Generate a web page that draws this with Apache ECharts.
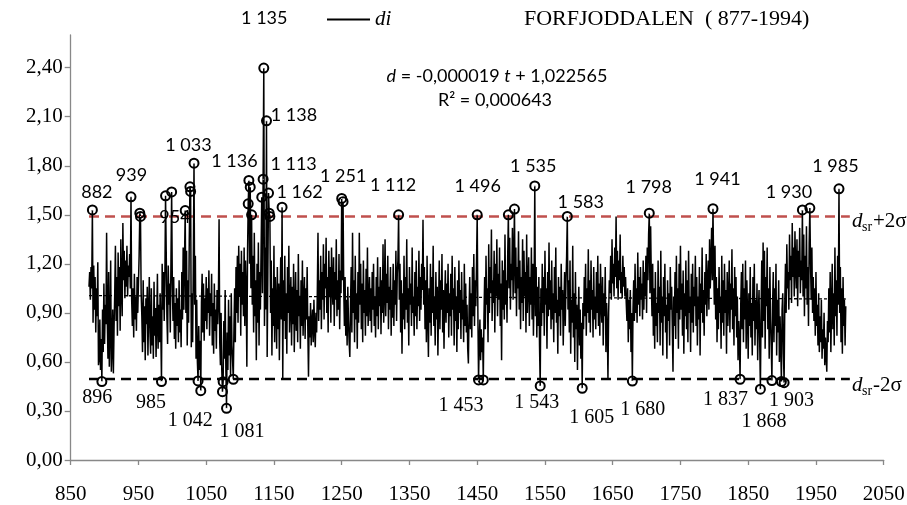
<!DOCTYPE html>
<html><head><meta charset="utf-8">
<script src="https://cdn.jsdelivr.net/npm/echarts@6/dist/echarts.min.js"></script>
<style>html,body{margin:0;padding:0;background:#fff}#c{width:907px;height:505px}</style>
</head><body><div id="c"></div>
<script>
// ---- yearly di values, grouped by start year ----
const y0877 = [
 1.06,1.15,0.98,1.18,1.05,1.53,
 0.84,1.19,0.92,1.12,0.78,1.05,0.88,1.21,
 0.58,0.62,0.86,0.55,0.74,0.48,
 0.92,0.66,1.08,0.71,0.95,0.83,1.39,
 0.86,0.62,1.15,0.57,0.78,1.22,0.54,0.69,0.92,0.53,0.81,1.02,
 1.31,0.85,1.12,0.76,1.27,0.94,1.18,0.79,1.35,1.04,0.88,1.45,1.1,
 1.28,0.99,1.22,1.06,1.31,1.0,1.19,1.12,1.26,1.05,1.61,
 0.98,0.82,1.05,0.75,1.14,0.86,1.0,0.79,1.12,0.9,1.08,1.25,1.51,1.49,
 1.02,0.88,0.66,1.1,0.72,0.94,0.61,0.99,0.83,1.06,0.64,0.9,
 1.12,0.78,0.65,1.05,0.7,0.88,0.62,1.09,0.76,0.93,0.63,0.85,1.14,0.68,0.95,0.72,1.02,0.8,0.48,
 1.2,0.92,1.15,0.85,1.1,1.616,
 1.27,0.88,0.71,1.19,0.95,1.08,0.78,1.22,1.64];
const y1000 = [
 1.08,0.85,1.12,0.74,0.96,0.68,1.05,0.82,0.99,0.72,1.1,0.78,0.92,0.69,1.15,0.86,1.3,0.92,1.22,1.526,
 0.9,1.28,0.7,1.1,0.84,1.34,1.671,1.643,0.69,1.02,0.72,1.2,1.816,
 0.95,1.25,0.62,0.98,0.6,0.484,0.82,0.55,0.73,0.424,
 0.96,1.14,0.78,1.08,0.73,0.99,0.85,1.12,0.8,1.05,0.9,1.16,0.76,
 1.02,0.88,1.14,0.7,0.96,0.65,1.08,0.79,0.92,0.68,1.04,0.83,0.98,1.473,
 0.72,0.58,0.9,0.55,0.418,0.479,0.85,0.62,1.04,0.56,0.316,
 0.78,0.55,0.98,0.64,0.88,0.51,1.02,0.7,0.6,0.494,
 0.82,1.05,0.72,1.18,0.9,1.25,0.84,1.31,1.0];
const y1100 = [
 1.2,0.76,1.28,0.95,1.15,0.88,1.3,0.82,1.22,1.05,0.57,1.26,
 1.567,1.71,1.2,1.669,1.05,1.50,
 0.95,1.25,0.78,1.39,0.88,1.1,0.61,1.2,0.84,1.33,0.7,1.15,0.92,1.28,
 1.608,1.02,1.718,2.398,0.82,1.3,0.92,2.075,0.63,1.15,1.633,1.51,1.49,
 0.9,1.22,0.64,1.05,0.82,1.31,0.72,1.12,0.95,0.68,1.18,0.8,1.08,0.61,0.98,1.24,0.86,1.547,0.50,
 1.1,0.85,1.25,0.74,1.02,0.65,1.18,0.9,1.31,0.78,0.95,1.12,0.7,1.06,0.83,1.2,0.66,0.92,1.15,0.79,
 1.04,0.72,1.26,0.88,1.0,0.68,1.1,0.82,1.22,0.76,0.97,1.12,0.74,1.05,0.86,1.18];
const y1200 = [
 0.8,0.51,
 0.88,0.75,0.96,0.7,0.84,0.92,0.72,0.98,0.8,0.69,0.9,0.78,1.02,1.39,0.85,1.1,
 0.92,1.25,0.8,1.15,0.98,1.32,0.86,1.2,1.05,1.36,0.9,1.12,0.78,1.28,1.0,1.18,
 0.84,1.3,1.06,0.95,1.24,0.82,1.15,0.98,1.35,0.88,1.1,0.92,1.26,0.8,1.16,1.02,
 1.60,1.1,1.58,1.05,0.82,1.12,0.76,0.98,0.7,1.06,0.85,0.72,0.63,
 0.95,1.18,0.78,1.39,0.9,1.1,0.72,1.25,0.86,1.02,0.68,1.15,0.84,1.39,0.95,1.2,0.8,1.08,0.72,1.22,
 0.9,1.04,0.76,1.17,0.88,1.3,0.82,0.98,1.12,
 0.85,1.05,0.78,1.15,0.92,1.2,0.82,1.0];
const y1300 = [
 0.75,1.12,0.88,1.24,0.8,1.06,0.94,1.18,0.77,1.1,0.9,1.32,0.84,1.02,1.35,0.88,1.14,0.96,1.25,0.8,
 1.06,0.92,1.18,0.76,1.04,0.87,1.2,0.82,1.1,0.95,1.28,0.85,1.14,1.22,1.50,
 0.98,1.2,0.78,1.1,0.65,1.02,0.86,1.25,0.8,1.12,0.92,1.35,0.84,1.05,0.7,1.18,0.95,1.08,0.82,1.3,
 0.9,1.0,0.76,1.15,0.88,1.22,0.8,1.06,0.94,1.28,0.85,1.12,0.92,1.2,1.04,1.47,
 0.95,1.18,0.8,1.1,0.72,1.25,0.88,0.63,1.05,0.84,1.2,0.76,1.12,0.9,1.31,0.82,1.0,0.7,1.15,0.86,
 1.06,0.64,0.95,1.22,0.8,1.1,0.92,1.26,0.78,1.04,0.68,0.98,1.16,0.84,1.08,0.9,1.2,0.75,1.02];
const y1410 = [
 0.88,1.14,0.76,1.25,0.92,1.05,0.7,1.18,0.85,1.0,0.66,1.1,0.8,1.22,0.9,1.04,0.74,1.15,0.86,0.98,
 0.72,1.2,0.82,1.08,0.78,0.95,0.68,0.59,0.92,1.12,0.8,1.02,0.75,1.18,0.88,1.26,0.82,1.1,0.94,1.2,
 1.50,0.9,0.49,0.72,0.86,0.61,0.8,0.66,0.75,0.49,
 0.88,1.12,0.8,1.25,0.95,1.05,0.72,1.32,0.9,1.18,1.02,1.41,0.85,1.1,0.96,1.28,0.78,1.2,1.0,1.35,
 0.88,1.14,0.98,1.3,0.82,1.08,0.61,1.22,0.92,1.16,0.86,1.38,0.95,1.1,0.84,1.24,1.50,
 1.05,1.36,0.92,1.2,1.1,1.42,0.98,1.25,1.535];
const y1506 = [
 1.02,1.3,0.88,1.18,1.05,1.4,0.92,1.22,0.8,1.12,0.96,1.35,0.85,1.28,1.0,1.15,0.78,1.38,0.9,1.08,
 1.24,0.82,1.12,0.95,1.3,0.86,1.2,0.76,1.05,1.677,
 0.88,1.18,0.75,1.06,0.82,1.12,0.7,0.453,
 1.05,0.82,1.2,0.9,1.12,0.76,1.28,0.95,1.05,0.68,1.15,0.88,1.33,0.92,1.1,0.8,1.22,0.86,1.02,0.72,
 1.18,0.9,1.3,0.84,0.98,0.65,1.12,0.88,1.06,0.76,1.2,0.92,1.04,0.7,0.95,1.15,0.82,1.08,1.25,1.49,
 0.92,1.1,0.78,1.22,0.65,0.98,0.84,1.31,0.75,1.02,0.6,1.15,0.8,0.95,0.55,0.88,1.06,0.7,0.92,0.62,0.84,0.439];
const y1606 = [
 0.96,0.8,1.12,0.88,1.2,0.76,1.05,0.9,1.29,0.84,1.1,0.78,1.22,0.92,1.04,0.75,1.18,0.86,1.0,0.8,
 1.15,0.9,1.25,0.82,1.08,0.76,1.2,0.95,0.84,1.12,0.7,1.02,0.88,1.18,0.66,0.96,
 0.82,0.50,0.9,1.1,
 1.02,1.25,0.98,1.35,1.08,1.2,1.0,1.3,1.12,1.49,1.05,1.28,0.98,1.22,1.1,1.38,1.02,1.15,0.99,1.25,
 1.06,1.18,1.0,1.12,0.96,
 0.85,1.05,0.72,0.98,0.8,1.04,0.66,0.9,0.483,
 0.92,1.1,0.85,1.2,0.9,1.05,0.84,1.27,0.95,1.12,0.88,1.18,0.98,1.08,0.86,1.22,0.92,1.15,1.0,1.25,
 0.9,1.3,1.1,1.38,1.51,
 1.02,1.43,1.1,0.88];
const y1709 = [
 1.2,0.76,1.05,0.68,1.15,0.82,0.96,0.72,1.22,0.9,1.06,0.7,1.28,0.84,1.0,0.64,1.12,0.88,1.2,0.78,
 0.95,0.62,1.1,0.85,1.02,0.7,1.18,0.92,1.06,0.8,0.54,
 1.0,0.82,1.15,0.74,1.25,0.9,1.05,0.68,1.2,0.86,1.31,0.92,1.08,0.76,1.16,0.65,1.02,0.88,1.22,0.8,
 1.1,0.72,1.28,0.9,1.0,0.66,1.14,0.84,1.2,0.78,1.06,0.94,1.25,0.82,1.12,0.7,1.0,0.86,1.18,0.64,
 1.08,0.9,1.3,0.84,1.04,0.76,1.15,0.95,1.26,0.88,1.1,1.22,0.92,1.35,1.05,1.2,1.42,1.1,1.537];
const y1799 = [
 1.2,0.95,1.31,0.86,1.12,0.72,1.05,0.8,1.18,0.9,1.0,0.68,1.25,0.84,1.1,0.76,1.2,0.9,1.04,0.65,
 1.15,0.82,0.98,1.22,0.78,1.08,0.92,1.29,0.8,1.05,0.7,1.18,0.88,1.12,0.75,1.0,0.61,0.85,0.72,0.494,
 0.95,1.15,0.8,1.2,0.72,1.05,0.86,1.22,0.68,1.1,0.9,0.62,1.02,0.82,1.18,0.75,0.96,0.64,1.12,0.85,
 1.2,0.7,0.98,0.8,1.08,0.61,0.9,1.04,0.72,0.433,
 0.9,1.22,0.75,1.33,0.85,1.28,0.68,1.12,0.94,1.3,0.8,1.05,0.62,1.18,0.86,0.7,0.486,
 0.95,1.15,0.72,1.05,0.82,1.2,0.64,0.98,0.78,1.1,0.6,0.88,0.7,0.48,0.92,1.02,0.65,0.473];
const y1904 = [
 0.95,1.2,0.9,1.32,1.05,1.15,0.92,1.38,1.1,1.25,0.96,1.45,1.12,1.3,1.0,1.4,1.18,1.05,1.35,0.94,
 1.28,1.12,1.42,1.02,1.22,1.1,1.53,
 1.0,1.38,0.88,1.25,1.05,1.43,0.95,1.18,0.82,1.32,1.541,
 1.2,0.98,1.3,0.9,1.12,0.85,1.05,0.76,1.15,0.82,0.95,0.7,1.02,0.66,0.88,0.72,0.98,0.62,0.8,0.68,
 0.9,0.58,0.75,0.64,0.54,
 0.85,0.72,1.05,0.78,1.15,0.66,0.92,1.2,0.8,1.02,0.7,1.3,0.88,1.1,0.76,1.25,0.95,1.659,
 0.9,1.18,0.72,1.05,0.65,1.12,0.82,0.98,0.7,0.94];
const segmentStarts = [877,1000,1100,1200,1300,1410,1506,1606,1709,1799,1904];
const segmentValues = [y0877,y1000,y1100,y1200,y1300,y1410,y1506,y1606,y1709,y1799,y1904];

// reference lines
const upperLimit = 1.49;      // dsr + 2σ
const lowerLimit = 0.495;     // dsr - 2σ
const limitYears = [877, 2000];
const trendYears = [877, 1994];
const trendValues = [1.006, 0.985];

// marked (circled) years
const circleYears = [882,896,939,952,953,984,990,999,1019,1026,1027,1032,1038,1042,1074,1075,1080,1090,
 1112,1113,1115,1117,1132,1134,1135,1139,1142,1143,1144,1162,1250,1252,1334,1450,1452,1459,1496,1505,
 1535,1543,1583,1605,1679,1704,1798,1838,1868,1885,1899,1903,1930,1941,1984];

// annotation texts and the circled year each one belongs to
const topLabelTexts = ['882','939','954','1 033','1 135','1 138','1 136','1 113','1 162','1 251','1 112','1 496','1 535','1 583','1 798','1 941','1 930','1 985'];
const topLabelYears = [882,939,953,1032,1135,1139,1113,1134,1162,1250,1334,1450,1535,1583,1704,1798,1930,1984];
const bottomLabelTexts = ['896','985','1 042','1 081','1 453','1 543','1 605','1 680','1 837','1 868','1 903'];
const bottomLabelYears = [896,984,1042,1080,1452,1543,1605,1679,1838,1868,1903];

const yTickValues = [0,0.3,0.6,0.9,1.2,1.5,1.8,2.1,2.4];

// ---- layout (pixel offsets of labels from their circles) ----
const topLabelOffsets = [[5,-17],[1,-21],[35,1],[-5,-17],[1,-49],[28,-5],[-14,-19],[31,-14],[18,-14],[2,-22],[-5,-29],[1,-28],[-1,-19],[14,-14],[0,-25],[5,-29],[-13,-17],[-3,-22]];
const bottomLabelOffsets = [[-4,17],[-10,22],[-10,31],[16,24],[-17,26],[-3,17],[10,30],[11,29],[-14,21],[4,33],[8,19]];

// ---- build ----
const lookup = {};
const diData = [];
segmentStarts.forEach((s, k) => {
  segmentValues[k].forEach((v, i) => { lookup[s + i] = v; diData.push([s + i, v]); });
});

const serif = 'Liberation Serif, Times New Roman, serif';
const sans = 'Lato, Carlito, Calibri, sans-serif';

const labelBase = {show: true, position: [0, 0], formatter: p => p.name, color: '#000', opacity: 1,
  textBorderWidth: 0, textShadowBlur: 0, align: 'center', verticalAlign: 'middle'};

const chart = echarts.init(document.getElementById('c'), null, {renderer: 'canvas'});
chart.setOption({
  animation: false,
  backgroundColor: '#fff',
  title: {
    text: 'FORFJODDALEN  ( 877-1994)', left: 519, top: 3,
    textStyle: {fontFamily: serif, fontWeight: 'normal', fontSize: 22, color: '#000'}
  },
  legend: {
    data: ['di'], left: 322, top: 4, icon: 'rect', itemWidth: 43, itemHeight: 2, itemGap: 5,
    textStyle: {fontFamily: serif, fontStyle: 'italic', fontSize: 21, color: '#000'}
  },
  grid: {left: 70.7, right: 23.3, top: 35, bottom: 45, containLabel: false, outerBoundsMode: 'none'},
  xAxis: {
    type: 'value', min: 850, max: 2050, interval: 100,
    axisLine: {lineStyle: {color: '#888', width: 1.3}},
    axisTick: {show: true, length: 5, lineStyle: {color: '#888', width: 1.3}},
    splitLine: {show: false},
    axisLabel: {fontFamily: serif, fontSize: 21, color: '#000', margin: 24, formatter: v => String(v)}
  },
  yAxis: {
    type: 'value', min: 0, max: 2.6, interval: 0.3,
    axisLine: {show: true, lineStyle: {color: '#888', width: 1.3}},
    axisTick: {show: true, length: 6, customValues: yTickValues, lineStyle: {color: '#888', width: 1.3}},
    splitLine: {show: false},
    axisLabel: {fontFamily: serif, fontSize: 21, color: '#000', margin: 8,
      customValues: yTickValues,
      formatter: v => v.toFixed(2).replace('.', ',')}
  },
  graphic: [
    {type: 'text', x: 497, y: 76, style: {text: '{i|d} = -0,000019 {i|t} + 1,022565', font: '18px ' + sans, fill: '#000', align: 'center', verticalAlign: 'middle',
      rich: {i: {fontStyle: 'italic', fontFamily: sans, fontSize: 18}}}},
    {type: 'text', x: 495, y: 100, style: {text: 'R² = 0,000643', font: '18px ' + sans, fill: '#000', align: 'center', verticalAlign: 'middle'}},
    {type: 'text', x: 852, y: 221, style: {text: 'd', font: 'italic 21px ' + serif, fill: '#000', align: 'left', verticalAlign: 'middle'}},
    {type: 'text', x: 862, y: 227, style: {text: 'sr', font: '14px ' + serif, fill: '#000', align: 'left', verticalAlign: 'middle'}},
    {type: 'text', x: 873, y: 221, style: {text: '+2σ', font: '21px ' + serif, fill: '#000', align: 'left', verticalAlign: 'middle'}},
    {type: 'text', x: 852, y: 385, style: {text: 'd', font: 'italic 21px ' + serif, fill: '#000', align: 'left', verticalAlign: 'middle'}},
    {type: 'text', x: 862, y: 391, style: {text: 'sr', font: '14px ' + serif, fill: '#000', align: 'left', verticalAlign: 'middle'}},
    {type: 'text', x: 873, y: 385, style: {text: '-2σ', font: '21px ' + serif, fill: '#000', align: 'left', verticalAlign: 'middle'}}
  ],
  series: [
    {name: 'upper', type: 'line', data: limitYears.map(x => [x, upperLimit]), symbol: 'none', silent: true, z: 1,
      lineStyle: {color: '#C0504D', width: 2.5, type: [10, 6]}},
    {name: 'lower', type: 'line', data: limitYears.map(x => [x, lowerLimit]), symbol: 'none', silent: true, z: 1,
      lineStyle: {color: '#000', width: 2.5, type: [10, 6]}},
    {name: 'trend', type: 'line', data: trendYears.map((x, i) => [x, trendValues[i]]), symbol: 'none', silent: true, z: 1,
      lineStyle: {color: '#000', width: 1.3, type: [3, 2]}},
    {name: 'di', type: 'line', data: diData, symbol: 'none', showSymbol: false, sampling: null, z: 3,
      lineStyle: {color: '#000', width: 1.5}, itemStyle: {color: '#000'}},
    {name: 'circles', type: 'scatter', data: circleYears.map(y => [y, lookup[y]]), symbol: 'circle', symbolSize: 9, z: 4, clip: false,
      itemStyle: {color: 'rgba(0,0,0,0)', borderColor: '#000', borderWidth: 2, opacity: 1}},
    {name: 'topLabels', type: 'scatter', symbolSize: 1, z: 5, clip: false, silent: true,
      itemStyle: {color: '#fff', opacity: 1},
      label: Object.assign({}, labelBase, {fontFamily: sans, fontSize: 18}),
      data: topLabelTexts.map((t, i) => ({name: t, value: [topLabelYears[i], lookup[topLabelYears[i]]], label: {offset: topLabelOffsets[i]}}))},
    {name: 'bottomLabels', type: 'scatter', symbolSize: 1, z: 5, clip: false, silent: true,
      itemStyle: {color: '#fff', opacity: 1},
      label: Object.assign({}, labelBase, {fontFamily: serif, fontSize: 20}),
      data: bottomLabelTexts.map((t, i) => ({name: t, value: [bottomLabelYears[i], lookup[bottomLabelYears[i]]], label: {offset: bottomLabelOffsets[i]}}))}
  ]
});
</script></body></html>
